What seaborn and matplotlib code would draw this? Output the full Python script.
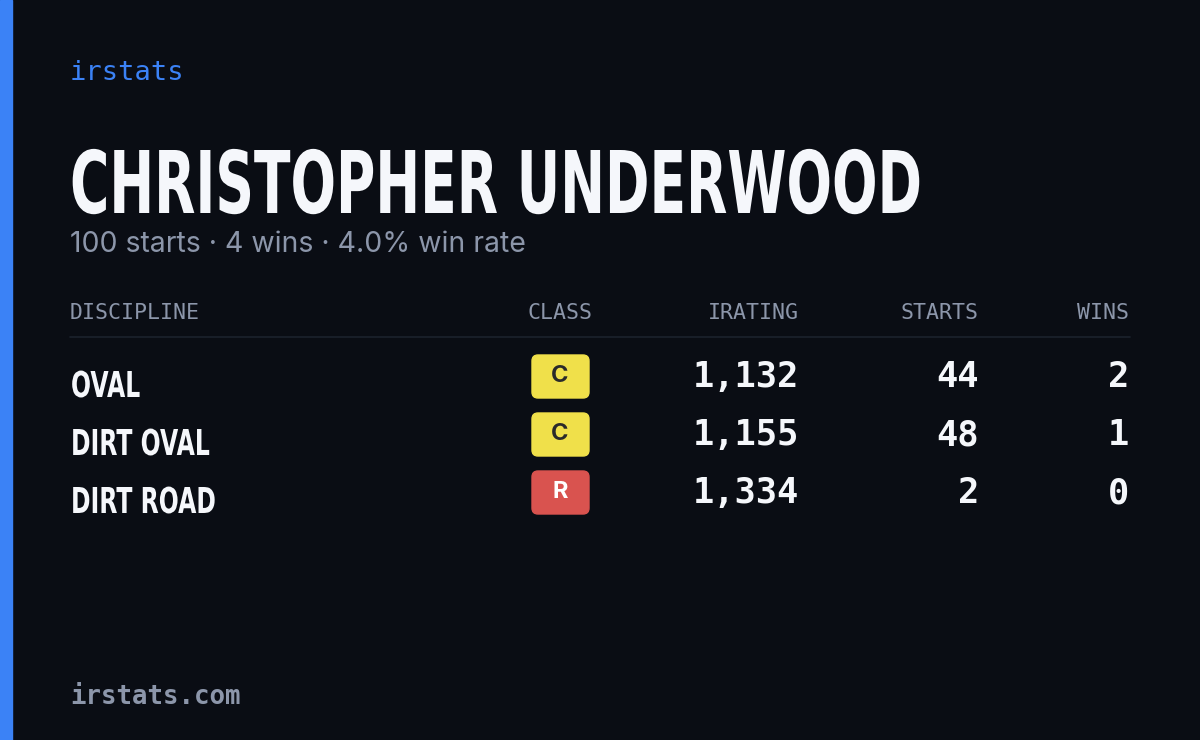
import matplotlib
matplotlib.use("Agg")
import matplotlib.pyplot as plt
import seaborn as sns
from matplotlib.patches import FancyBboxPatch, Rectangle, PathPatch
from matplotlib.textpath import TextPath
from matplotlib.font_manager import FontProperties
from matplotlib.transforms import Affine2D

driver = "CHRISTOPHER UNDERWOOD"
summary = "100 starts · 4 wins · 4.0% win rate"
columns = ["DISCIPLINE", "CLASS", "IRATING", "STARTS", "WINS"]
disciplines = ["OVAL", "DIRT OVAL", "DIRT ROAD"]
classes = ["C", "C", "R"]
iratings = [1132, 1155, 1334]
starts = [44, 48, 2]
wins = [2, 1, 0]

sns.set_theme(style="dark")
BG = "#0a0d14"
GRAY = "#8c96aa"
WHITE = "#f5f7fb"
BLUE = "#3b82f6"
class_colors = {"C": "#f0e04a", "R": "#d9534f", "D": "#f08c3a", "B": "#4caf50", "A": "#3b82f6"}
class_text = {"C": "#2a2a2a", "R": "#ffffff"}
MONO = ["DejaVu Sans Mono"]
BOLD = FontProperties(family="DejaVu Sans", weight="bold")

fig = plt.figure(figsize=(12, 7.4), dpi=100, facecolor=BG)
ax = fig.add_axes([0, 0, 1, 1])
ax.set_facecolor(BG)
ax.set_xlim(0, 1200)
ax.set_ylim(740, 0)
ax.axis("off")


def condensed(s, x, baseline, cap, squeeze):
    # draw text as a path squeezed horizontally (no condensed font installed)
    tp = TextPath((0, 0), s, size=1, prop=BOLD)
    k = cap / 0.729
    tr = Affine2D().scale(k * squeeze, -k).translate(x, baseline)
    ax.add_patch(PathPatch(tr.transform_path(tp), color=WHITE, lw=0))


ax.add_patch(Rectangle((0, 0), 12, 740, color=BLUE))
ax.text(70, 73, "irstats", color=BLUE, fontsize=19.5, family=MONO, va="center")
condensed(driver, 70, 213, 63, 0.62)
ax.text(70, 245, summary, color=GRAY, fontsize=20.5, family=["Inter", "DejaVu Sans"], va="center")

col_x = [70, 560, 799, 979, 1129]
col_ha = ["left", "center", "right", "right", "right"]
for name, x, ha in zip(columns, col_x, col_ha):
    ax.text(x, 313, name, color=GRAY, fontsize=15.5, family=MONO, ha=ha, va="center")
ax.plot([70, 1130], [337, 337], color="#1c222d", lw=1.2)

row_y0, row_h = 377, 58
for i, (d, c, ir, s, w) in enumerate(zip(disciplines, classes, iratings, starts, wins)):
    y = row_y0 + i * row_h
    condensed(d, 71, y + 20, 26, 0.66)
    ax.add_patch(FancyBboxPatch((532, y - 22), 57, 43, boxstyle="round,pad=0,rounding_size=6",
                                color=class_colors[c]))
    ax.text(560, y - 1, c, color=class_text.get(c, "#2a2a2a"), fontsize=17, weight="bold",
            family=["Inter", "DejaVu Sans"], ha="center", va="center")
    for val, x in zip([f"{ir:,}", str(s), str(w)], col_x[2:]):
        ax.text(x, y, val, color=WHITE, fontsize=25.5, family=MONO, weight="bold",
                ha="right", va="center")

ax.text(70, 697, "irstats.com", color=GRAY, fontsize=18.5, family=MONO, weight="bold", va="center")

fig.savefig("out.png", dpi=100, facecolor=BG)
